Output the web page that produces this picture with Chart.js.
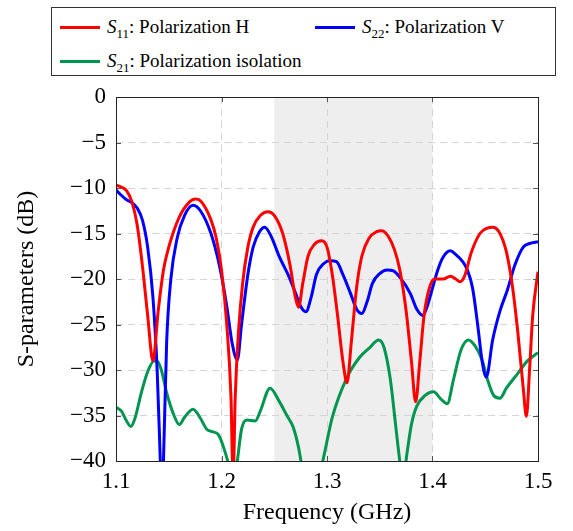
<!DOCTYPE html>
<html>
<head>
<meta charset="utf-8">
<script src="https://cdn.jsdelivr.net/npm/chart.js@4.4.0/dist/chart.umd.min.js"></script>
<style>
  body { margin: 0; background: #fff; }
  #wrap { position: relative; width: 573px; height: 531px; }
  #legend {
    position: absolute; left: 51px; top: 7px; width: 503px; height: 67px;
    border: 1px solid #333; background: #fff;
    font-family: "Liberation Serif", "Times New Roman", Tinos, "DejaVu Serif", "Noto Serif", serif; font-size: 19px; color: #000;
  }
  .item { position: absolute; white-space: nowrap; }
  .item .sw { display: inline-block; width: 40px; height: 3px; vertical-align: middle; margin-right: 7px; position: relative; top: -1px; }
  .item i { font-style: italic; }
  .item sub { font-size: 13px; }
</style>
</head>
<body>
<div id="wrap">
  <canvas id="chart" width="573" height="531"></canvas>
  <div id="legend"></div>
</div>
<script>
// S11 - polarization H
var freqS11 = [1.100, 1.105, 1.110, 1.115, 1.120, 1.125, 1.130, 1.135, 1.140, 1.145, 1.150, 1.160, 1.170, 1.175, 1.180, 1.190, 1.195, 1.200, 1.205, 1.209, 1.211, 1.213, 1.216, 1.220, 1.225, 1.230, 1.237, 1.244, 1.250, 1.258, 1.265, 1.270, 1.273, 1.277, 1.282, 1.288, 1.295, 1.300, 1.305, 1.310, 1.315, 1.319, 1.323, 1.328, 1.333, 1.340, 1.347, 1.352, 1.358, 1.364, 1.369, 1.375, 1.380, 1.384, 1.388, 1.392, 1.397, 1.402, 1.410, 1.417, 1.422, 1.426, 1.430, 1.437, 1.445, 1.452, 1.457, 1.463, 1.470, 1.476, 1.481, 1.486, 1.489, 1.492, 1.495, 1.500];
var s11 = [-9.7, -9.9, -10.3, -11.5, -14.0, -18.5, -24.0, -29.0, -23.5, -19.0, -16.5, -13.2, -11.5, -11.2, -11.4, -13.5, -15.5, -19.0, -25.0, -33.0, -42.0, -33.0, -26.0, -20.5, -16.5, -14.3, -13.0, -12.6, -13.0, -15.0, -18.5, -22.0, -23.1, -20.5, -17.5, -16.2, -15.8, -16.5, -19.5, -24.0, -29.0, -31.4, -27.0, -21.0, -17.5, -15.5, -14.8, -14.7, -15.3, -16.8, -19.0, -23.5, -29.0, -33.5, -29.0, -24.0, -21.0, -20.0, -20.0, -19.7, -20.0, -20.3, -19.8, -17.0, -15.0, -14.4, -14.3, -14.8, -17.0, -21.0, -26.0, -32.0, -35.1, -30.0, -24.0, -19.2];

// S22 - polarization V
var freqS22 = [1.100, 1.105, 1.110, 1.115, 1.120, 1.125, 1.130, 1.135, 1.139, 1.142, 1.1435, 1.145, 1.148, 1.152, 1.158, 1.165, 1.173, 1.180, 1.190, 1.198, 1.205, 1.210, 1.215, 1.219, 1.225, 1.230, 1.236, 1.241, 1.247, 1.255, 1.263, 1.270, 1.275, 1.280, 1.285, 1.290, 1.297, 1.303, 1.309, 1.315, 1.322, 1.328, 1.333, 1.338, 1.343, 1.350, 1.357, 1.363, 1.369, 1.379, 1.385, 1.391, 1.395, 1.400, 1.405, 1.410, 1.417, 1.422, 1.428, 1.433, 1.438, 1.443, 1.447, 1.451, 1.457, 1.464, 1.471, 1.478, 1.486, 1.492, 1.500];
var s22 = [-10.2, -10.8, -11.3, -11.6, -12.2, -13.5, -16.5, -22.0, -30.0, -40.0, -45.0, -40.0, -27.0, -20.0, -15.5, -13.0, -11.9, -12.5, -15.0, -18.5, -23.0, -27.0, -28.9, -25.0, -19.5, -16.5, -14.8, -14.3, -15.3, -17.6, -19.5, -21.5, -23.0, -23.6, -22.0, -19.5, -18.3, -18.0, -18.1, -19.5, -21.5, -23.3, -23.8, -22.5, -20.5, -19.4, -19.0, -19.1, -19.8, -21.6, -23.3, -24.0, -23.0, -21.0, -19.0, -17.6, -16.9, -17.3, -18.0, -19.0, -21.0, -25.2, -29.0, -30.8, -26.7, -23.5, -21.2, -18.5, -16.5, -16.1, -15.9];

// S21 - polarization isolation
var freqS21 = [1.100, 1.105, 1.110, 1.114, 1.118, 1.124, 1.130, 1.136, 1.139, 1.143, 1.148, 1.155, 1.160, 1.165, 1.173, 1.180, 1.186, 1.192, 1.197, 1.202, 1.208, 1.211, 1.215, 1.219, 1.224, 1.232, 1.2365, 1.246, 1.255, 1.262, 1.268, 1.273, 1.277, 1.287, 1.296, 1.305, 1.319, 1.331, 1.340, 1.349, 1.354, 1.360, 1.365, 1.369, 1.372, 1.376, 1.380, 1.385, 1.393, 1.401, 1.408, 1.414, 1.420, 1.427, 1.434, 1.440, 1.447, 1.452, 1.458, 1.464, 1.470, 1.480, 1.490, 1.500];
var s21 = [-34.1, -34.5, -35.6, -36.2, -35.3, -32.5, -30.2, -29.0, -29.0, -30.0, -32.5, -35.0, -36.0, -35.2, -34.3, -35.3, -36.5, -36.8, -37.1, -38.5, -41.0, -43.0, -40.0, -36.5, -35.5, -35.6, -34.6, -32.0, -33.5, -35.0, -36.3, -38.5, -41.0, -44.0, -40.0, -35.2, -30.8, -28.6, -27.6, -26.7, -27.5, -31.0, -36.0, -40.0, -42.0, -39.0, -36.0, -34.0, -32.8, -32.4, -33.2, -33.7, -31.0, -27.8, -26.7, -27.3, -28.9, -31.0, -32.8, -33.1, -32.0, -30.5, -29.0, -28.1];

var seriesNames = ['Polarization H', 'Polarization V', 'Polarization isolation'];
var seriesSubs = ['11', '22', '21'];
var seriesColors = ['#ff0000', '#0000ff', '#009650'];

// highlighted band (GHz)
var bandStart = 1.25, bandEnd = 1.4;

function pts(xs, ys) {
  return xs.map(function (x, i) { return { x: x, y: ys[i] }; });
}

var serif = '"Liberation Serif", "Times New Roman", Tinos, "DejaVu Serif", "Noto Serif", serif';

var decor = {
  id: 'decor',
  beforeDraw: function (chart) {
    var ctx = chart.ctx, a = chart.chartArea, x = chart.scales.x;
    var x0 = x.getPixelForValue(bandStart), x1 = x.getPixelForValue(bandEnd);
    ctx.save();
    ctx.fillStyle = '#eeeeee';
    ctx.fillRect(x0, a.top, x1 - x0, a.bottom - a.top);
    ctx.restore();
  },
  afterDraw: function (chart) {
    var ctx = chart.ctx, a = chart.chartArea;
    ctx.save();
    ctx.strokeStyle = '#555';
    ctx.lineWidth = 1;
    ctx.beginPath();
    chart.scales.y.ticks.forEach(function (t) {
      var py = Math.round(chart.scales.y.getPixelForValue(t.value)) + 0.5;
      ctx.moveTo(a.left, py); ctx.lineTo(a.left + 5, py);
      ctx.moveTo(a.right, py); ctx.lineTo(a.right - 5, py);
    });
    chart.scales.x.ticks.forEach(function (t) {
      var px = Math.round(chart.scales.x.getPixelForValue(t.value)) + 0.5;
      ctx.moveTo(px, a.bottom); ctx.lineTo(px, a.bottom - 5);
      ctx.moveTo(px, a.top); ctx.lineTo(px, a.top + 5);
    });
    ctx.stroke();
    ctx.strokeStyle = '#222';
    ctx.strokeRect(Math.round(a.left) + 0.5, Math.round(a.top) + 0.5, Math.round(a.right - a.left), Math.round(a.bottom - a.top));
    ctx.restore();
  }
};

var ctx = document.getElementById('chart').getContext('2d');
var chart = new Chart(ctx, {
  type: 'line',
  data: {
    datasets: [
      { label: seriesNames[0], data: pts(freqS11, s11), borderColor: seriesColors[0] },
      { label: seriesNames[1], data: pts(freqS22, s22), borderColor: seriesColors[1] },
      { label: seriesNames[2], data: pts(freqS21, s21), borderColor: seriesColors[2] }
    ]
  },
  options: {
    responsive: false,
    animation: false,
    layout: { padding: { top: 97, right: 35, left: 8, bottom: 0 } },
    elements: {
      point: { radius: 0 },
      line: { borderWidth: 3, cubicInterpolationMode: 'monotone' }
    },
    plugins: {
      legend: { display: false },
      tooltip: { enabled: false }
    },
    scales: {
      x: {
        type: 'linear',
        min: 1.1,
        max: 1.5,
        afterFit: function (s) { s.height = 70; },
        ticks: {
          stepSize: 0.1,
          color: '#000',
          padding: 7,
          font: { family: serif, size: 23 },
          callback: function (v) { return v.toFixed(1); }
        },
        grid: { color: '#d4d4d4', drawTicks: false },
        border: { display: false, dash: [7, 5] },
        title: { display: true, text: 'Frequency (GHz)', color: '#000', font: { family: serif, size: 24 }, padding: { top: 6 } }
      },
      y: {
        min: -40,
        max: 0,
        afterFit: function (s) { s.width = 108; },
        ticks: {
          stepSize: 5,
          color: '#000',
          padding: 10,
          font: { family: serif, size: 23 },
          callback: function (v) { return String(v).replace('-', '\u2212'); }
        },
        grid: { color: '#d4d4d4', drawTicks: false },
        border: { display: false, dash: [7, 5] },
        title: { display: true, text: 'S-parameters (dB)', color: '#000', font: { family: serif, size: 24 }, padding: { bottom: 2 } }
      }
    }
  },
  plugins: [decor]
});

// legend built from the same series lists
var lg = document.getElementById('legend');
var spots = [[8, 8], [263, 8], [8, 42]];
seriesNames.forEach(function (name, i) {
  var d = document.createElement('div');
  d.className = 'item';
  d.style.left = spots[i][0] + 'px';
  d.style.top = spots[i][1] + 'px';
  d.innerHTML = '<span class="sw" style="background:' + seriesColors[i] + '"></span><i>S</i><sub>' + seriesSubs[i] + '</sub>: ' + name;
  lg.appendChild(d);
});
</script>
</body>
</html>
